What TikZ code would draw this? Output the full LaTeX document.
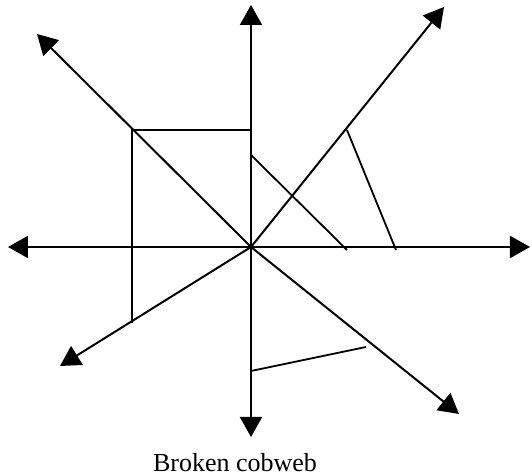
\documentclass[tikz,border=0pt]{standalone}
\usepackage{fontspec}
\setmainfont{Liberation Serif}
\usetikzlibrary{arrows.meta}
\begin{document}
\begin{tikzpicture}[x=0.5pt,y=-0.5pt,
  axis/.style={line width=1pt,-{Triangle[length=10pt,width=11pt]}},
  web/.style={line width=0.9pt},
  caption/.style={font=\fontsize{13}{15}\selectfont, inner sep=0pt}]
\useasboundingbox (0,0) rectangle (532,475);
\coordinate (O) at (251,247);
\coordinate (N) at (251,5);
\coordinate (S) at (251,437);
\coordinate (W) at (8,247);
\coordinate (E) at (530,247);
\coordinate (NW) at (37,34);
\coordinate (NE) at (444,7);
\coordinate (SW) at (60,366);
\coordinate (SE) at (459,414);
\foreach \t in {N,S,W,E,NW,NE,SW,SE} \draw[axis] (O) -- (\t);
% web pieces
\coordinate (a1) at (132,130);
\coordinate (a2) at (251,130);
\coordinate (a3) at (132,323);
\draw[web] (a2) -- (a1) -- (a3);
\coordinate (b1) at (251,155);
\coordinate (b2) at (347,250);
\draw[web] (b1) -- (b2);
\coordinate (c1) at (347,130);
\coordinate (c2) at (396,250);
\draw[web] (c1) -- (c2);
\coordinate (d1) at (251,371);
\coordinate (d2) at (366,347);
\draw[web] (d1) -- (d2);
\node[caption] (cap) at (235,463) {Broken cobweb};
\end{tikzpicture}
\end{document}
